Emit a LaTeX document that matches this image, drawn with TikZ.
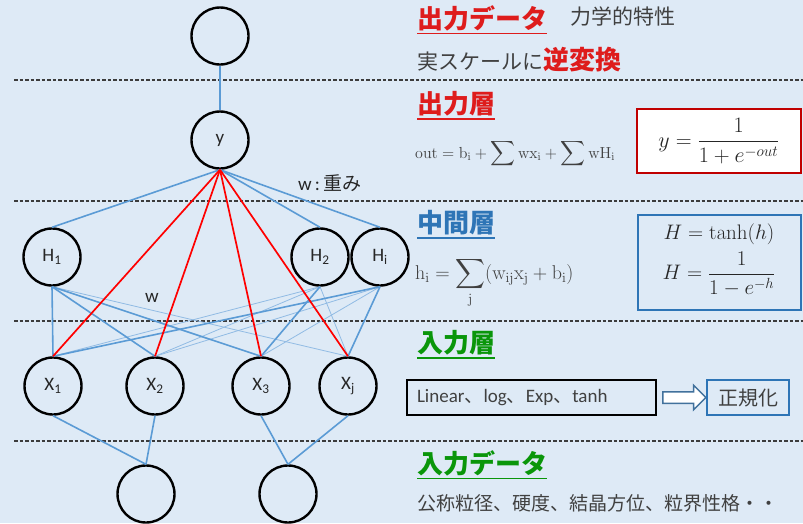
\RequirePackage{fix-cm}
\documentclass[tikz,border=0pt]{standalone}
\usepackage{exscale}
\usepackage[no-math]{fontspec}
\setmainfont{Carlito}
\newfontfamily\cjk{Noto Sans CJK JP}
\usetikzlibrary{shapes.arrows}
\definecolor{bgc}{RGB}{222,234,246}
\definecolor{lblue}{RGB}{91,155,213}
\definecolor{thinb}{RGB}{145,187,228}
\definecolor{hred}{RGB}{222,28,28}
\definecolor{bred}{RGB}{192,0,0}
\definecolor{hblue}{RGB}{46,117,182}
\definecolor{hgreen}{RGB}{10,150,10}
\definecolor{tgray}{RGB}{64,64,64}
\definecolor{dgray}{RGB}{60,60,60}
\definecolor{ablue}{RGB}{65,113,156}
\definecolor{ink}{RGB}{38,38,38}
\newcommand\jcomma{{\cjk 、}}
\begin{document}
\begin{tikzpicture}[x=1pt,y=-1pt,
  neuron/.style={circle, draw=black, line width=2.4pt, minimum size=57pt, inner sep=0pt,
    font=\fontsize{19}{21}\selectfont, text=ink},
  wmain/.style={draw=lblue, line width=1.6pt},
  wthin/.style={draw=thinb, line width=0.8pt},
  wred/.style={draw=red, line width=1.7pt},
  sepline/.style={draw=dgray, line width=1.2pt, dash pattern=on 3.5pt off 2pt},
  head/.style={anchor=west, inner xsep=0pt, inner ysep=2.5pt, font=\cjk\bfseries\fontsize{26}{30}\selectfont},
  plain/.style={anchor=west, inner sep=0pt, text=tgray},
]
\useasboundingbox (0,0) rectangle (803,523);
\fill[bgc] (0,0) rectangle (803,523);

% separators
\draw[sepline] (14,80) -- (803,80);
\draw[sepline] (14,201) -- (803,201);
\draw[sepline] (14,321) -- (803,321);
\draw[sepline] (14,441) -- (803,441);

% neurons
\node[neuron] (out) at (220,36) {};
\node[neuron] (y) at (220,140) {y};
\node[neuron] (h1) at (52,257) {H\textsubscript{1}};
\node[neuron] (h2) at (320,257) {H\textsubscript{2}};
\node[neuron] (hi) at (380,257) {H\textsubscript{i}};
\node[neuron] (x1) at (53,386) {X\textsubscript{1}};
\node[neuron] (x2) at (155,386) {X\textsubscript{2}};
\node[neuron] (x3) at (261,386) {X\textsubscript{3}};
\node[neuron] (xj) at (348,386) {X\textsubscript{j}};
\node[neuron] (in1) at (146,494) {};
\node[neuron] (in2) at (288,494) {};

% connectors
\draw[wmain] (out.south) -- (y.north);
\draw[wmain] (y.south) -- (h1.north);
\draw[wmain] (y.south) -- (h2.north);
\draw[wmain] (y.south) -- (hi.north);

\draw[wthin] (h1.south) -- (xj.north);
\draw[wthin] (h2.south) -- (x1.north);
\draw[wthin] (h2.south) -- (x2.north);
\draw[wthin] (h2.south) -- (xj.north);
\draw[wthin] (hi.south) -- (x2.north);
\draw[wthin] (hi.south) -- (x3.north);
\draw[wmain] (h1.south) -- (x1.north);
\draw[wmain] (h1.south) -- (x2.north);
\draw[wmain] (h1.south) -- (x3.north);
\draw[wmain] (h2.south) -- (x3.north);
\draw[wmain] (hi.south) -- (x1.north);
\draw[wmain] (hi.south) -- (xj.north);

\draw[wred] (y.south) -- (x1.north);
\draw[wred] (y.south) -- (x2.north);
\draw[wred] (y.south) -- (x3.north);
\draw[wred] (y.south) -- (xj.north);

\draw[wmain] (x1.south) -- (in1.north);
\draw[wmain] (x2.south) -- (in1.north);
\draw[wmain] (x3.south) -- (in2.north);
\draw[wmain] (xj.south) -- (in2.north);

\node[font=\fontsize{19}{21}\selectfont, text=ink, inner sep=0pt] (wl) at (152,298) {w};
\node[plain, text=ink, font=\fontsize{19}{21}\selectfont] (wlab) at (298,183) {w\,:\,{\cjk 重み}};

% output data
\node[head, text=hred] (t1) at (417,18) {出力データ};
\draw[hred, line width=1.5pt] (t1.south west) -- (t1.south east);
\node[plain, font=\cjk\fontsize{21}{24}\selectfont] (t1b) at (570,17) {力学的特性};
\node[plain, font=\cjk\fontsize{21}{24}\selectfont] (t2) at (417,60)
  {実スケールに{\bfseries\fontsize{26}{30}\selectfont\color{hred}逆変換}};

% output layer
\node[head, text=hred] (t3) at (417,104) {出力層};
\draw[hred, line width=1.5pt] (t3.south west) -- (t3.south east);
\node[anchor=base west, inner sep=0pt, font=\fontsize{16}{18}\selectfont, text=tgray] (f1) at (415,158)
  {$\mathrm{out}=\mathrm{b_i}+\displaystyle\sum\nolimits\mathrm{wx_i}+\sum\nolimits\mathrm{wH_i}$};
\node[draw=bred, fill=white, line width=2pt, minimum width=164pt, minimum height=64pt, inner sep=0pt,
  font=\fontsize{22}{26}\selectfont, text=ink] (rb) at (719,141) {$y=\displaystyle\frac{1}{1+e^{-out}}$};

% hidden layer
\node[head, text=hblue] (t4) at (417,223) {中間層};
\draw[hblue, line width=1.5pt] (t4.south west) -- (t4.south east);
\node[anchor=base west, inner sep=0pt, font=\fontsize{20}{22}\selectfont, text=tgray] (f2) at (415,279)
  {$\mathrm{h_i}=\displaystyle\sum_{\mathrm{j}}(\mathrm{w_{ij}x_j}+\mathrm{b_i})$};
\node[draw=hblue, line width=2.2pt, minimum width=163pt, minimum height=95pt] (bb) at (719.5,262.5) {};
\node[font=\fontsize{21}{24}\selectfont, text=ink, inner sep=0pt] (f3) at (719,234) {$H=\tanh(h)$};
\node[font=\fontsize{21}{24}\selectfont, text=ink, inner sep=0pt] (f4) at (719,274) {$H=\displaystyle\frac{1}{1-e^{-h}}$};

% input layer
\node[head, text=hgreen] (t5) at (417,343) {入力層};
\draw[hgreen, line width=1.5pt] (t5.south west) -- (t5.south east);
\node[draw=black, line width=2pt, minimum height=35pt, text width=229pt, inner xsep=10pt, inner ysep=0pt, align=left,
  font=\fontsize{19}{24}\selectfont, text=tgray] (lin) at (531.5,397.5)
  {Linear\jcomma log\jcomma Exp\jcomma tanh};
\node[single arrow, draw=ablue, fill=white, line width=1.5pt, minimum height=43pt, inner sep=5pt,
  single arrow head extend=6.5pt] (arr) at (681.5,397.5) {};
\node[draw=hblue, line width=2pt, minimum width=82pt, minimum height=35pt, inner sep=0pt,
  font=\cjk\fontsize{20}{24}\selectfont, text=tgray] (norm) at (748,397.5) {正規化};

% input data
\node[head, text=hgreen] (t6) at (417,463) {入力データ};
\draw[hgreen, line width=1.5pt] (t6.south west) -- (t6.south east);
\node[plain, font=\cjk\fontsize{19}{24}\selectfont] (t7) at (417,503) {公称粒径、硬度、結晶方位、粒界性格・・};
\end{tikzpicture}
\end{document}
